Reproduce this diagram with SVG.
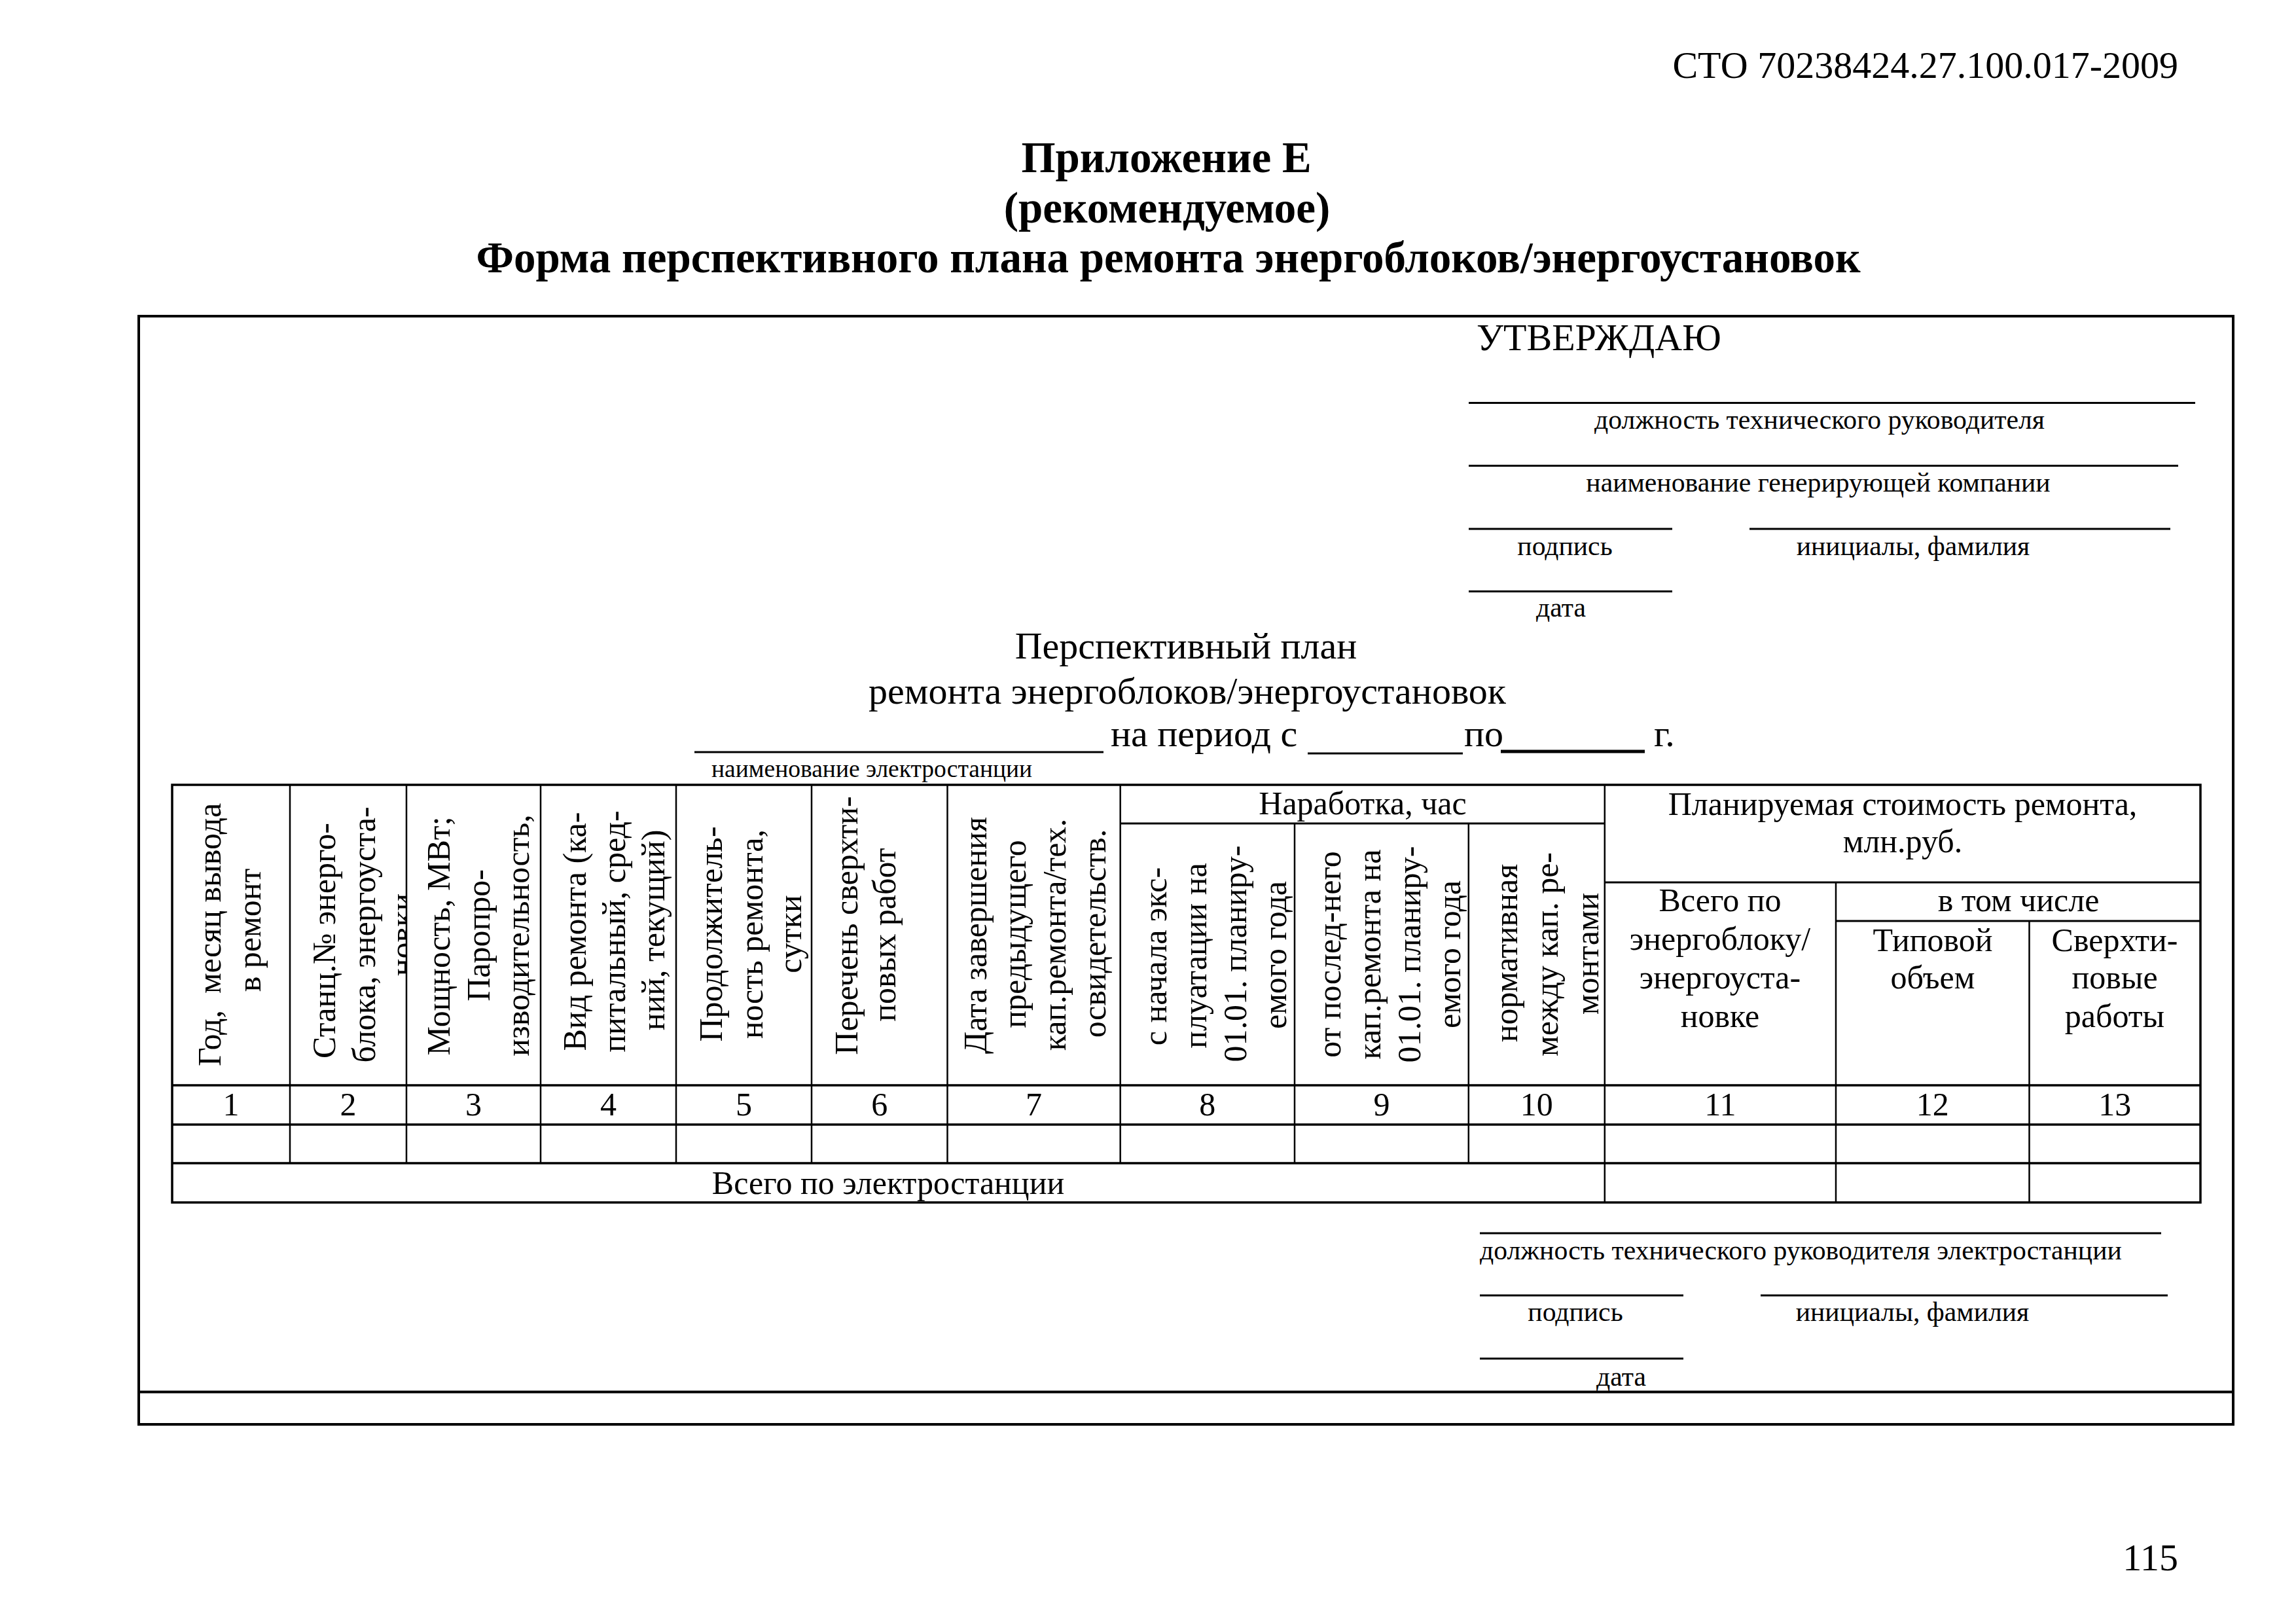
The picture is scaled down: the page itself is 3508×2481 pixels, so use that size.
<svg xmlns="http://www.w3.org/2000/svg" width="3508" height="2481" viewBox="0 0 3508 2481">
<style>
.t{font-family:"Liberation Serif","Times New Roman",serif;fill:#000}
.s58{font-size:58px}
.s50{font-size:50px}
.s42{font-size:41.7px}
.s37{font-size:37.5px}
.b{font-weight:bold;font-size:67px}
.m{text-anchor:middle}
.e{text-anchor:end}
.ln{stroke:#000;stroke-width:3;fill:none}
.hl{stroke:#000;stroke-width:3.5;fill:none}
.thin{stroke:#000;stroke-width:2.5;fill:none}
.tk{stroke:#000;stroke-width:4;fill:none}
</style>
<defs>
<clipPath id="c2"><rect x="443" y="1199" width="177" height="459"/></clipPath>
</defs>
<rect width="3508" height="2481" fill="#fff"/>

<g id="page-header">
<text class="t s58 e" x="3328" y="119">СТО 70238424.27.100.017-2009</text>
<text class="t b m" x="1782" y="263">Приложение Е</text>
<text class="t b m" x="1783" y="340">(рекомендуемое)</text>
<text class="t b m" x="1785" y="416">Форма перспективного плана ремонта энергоблоков/энергоустановок</text>
</g>

<g id="frame">
<rect class="tk" x="212" y="483" width="3200" height="1693"/>
<line class="tk" x1="212" y1="2126.5" x2="3412" y2="2126.5"/>
</g>

<g id="approval">
<text class="t s58" x="2256" y="535">УТВЕРЖДАЮ</text>
<line class="ln" x1="2244" y1="615.5" x2="3354" y2="615.5"/>
<text class="t s42 m" x="2780" y="655">должность технического руководителя</text>
<line class="ln" x1="2244" y1="711.5" x2="3328" y2="711.5"/>
<text class="t s42 m" x="2778" y="751">наименование генерирующей компании</text>
<line class="ln" x1="2244" y1="808" x2="2555" y2="808"/>
<line class="ln" x1="2673" y1="808" x2="3316" y2="808"/>
<text class="t s42 m" x="2391" y="848">подпись</text>
<text class="t s42 m" x="2923" y="848">инициалы, фамилия</text>
<line class="ln" x1="2244" y1="903.5" x2="2555" y2="903.5"/>
<text class="t s42 m" x="2385" y="942">дата</text>
</g>

<g id="plan-title">
<text class="t s58 m" x="1812" y="1006">Перспективный план</text>
<text class="t s58 m" x="1814" y="1075">ремонта энергоблоков/энергоустановок</text>
<line class="ln" x1="1061" y1="1149" x2="1686" y2="1149"/>
<text class="t s58" x="1697" y="1140">на период с</text>
<line class="ln" x1="1998" y1="1151" x2="2235" y2="1151"/>
<text class="t s58" x="2237" y="1140">по</text>
<line stroke="#000" stroke-width="5" x1="2293" y1="1148" x2="2513" y2="1148"/>
<text class="t s58" x="2527" y="1140">г.</text>
<text class="t s37" x="1087" y="1187">наименование электростанции</text>
</g>

<g id="table-grid">
<rect class="hl" x="263" y="1199" width="3099" height="638"/>
<line class="hl" x1="263" y1="1658" x2="3362" y2="1658"/>
<line class="hl" x1="263" y1="1718" x2="3362" y2="1718"/>
<line class="hl" x1="263" y1="1777" x2="3362" y2="1777"/>
<line class="ln" x1="1711.7" y1="1258" x2="2451.8" y2="1258"/>
<line class="ln" x1="2451.8" y1="1348" x2="3362" y2="1348"/>
<line class="ln" x1="2805" y1="1407" x2="3362" y2="1407"/>
<line class="thin" x1="443" y1="1199" x2="443" y2="1777"/>
<line class="thin" x1="621" y1="1199" x2="621" y2="1777"/>
<line class="thin" x1="826" y1="1199" x2="826" y2="1777"/>
<line class="thin" x1="1033" y1="1199" x2="1033" y2="1777"/>
<line class="thin" x1="1240" y1="1199" x2="1240" y2="1777"/>
<line class="thin" x1="1447.5" y1="1199" x2="1447.5" y2="1777"/>
<line class="thin" x1="1711.7" y1="1199" x2="1711.7" y2="1777"/>
<line class="thin" x1="1978" y1="1258" x2="1978" y2="1777"/>
<line class="thin" x1="2243.8" y1="1258" x2="2243.8" y2="1777"/>
<line class="thin" x1="2451.8" y1="1199" x2="2451.8" y2="1837"/>
<line class="thin" x1="2805" y1="1348" x2="2805" y2="1837"/>
<line class="thin" x1="3100.5" y1="1407" x2="3100.5" y2="1837"/>
</g>

<g id="col1-header">
<text class="t s50 m" xml:space="preserve" transform="translate(337,1428) rotate(-90)">Год,  месяц вывода</text>
<text class="t s50 m" transform="translate(398,1421) rotate(-90)">в ремонт</text>
</g>
<g id="col2-header">
<text class="t s50 m" transform="translate(512,1437) rotate(-90)">Станц.№ энерго-</text>
<text class="t s50 m" transform="translate(573,1428) rotate(-90)">блока, энергоуста-</text>
<g clip-path="url(#c2)"><text class="t s50 m" transform="translate(631,1428) rotate(-90)">новки</text></g>
</g>
<g id="col3-header">
<text class="t s50 m" transform="translate(687,1430) rotate(-90)">Мощность, МВт;</text>
<text class="t s50 m" transform="translate(748,1429) rotate(-90)">Паропро-</text>
<text class="t s50 m" transform="translate(808,1429) rotate(-90)">изводительность,</text>
</g>
<g id="col4-header">
<text class="t s50 m" transform="translate(895,1423) rotate(-90)">Вид ремонта (ка-</text>
<text class="t s50 m" transform="translate(955,1423) rotate(-90)">питальный, сред-</text>
<text class="t s50 m" transform="translate(1015,1421) rotate(-90)">ний, текущий)</text>
</g>
<g id="col5-header">
<text class="t s50 m" transform="translate(1103,1427) rotate(-90)">Продолжитель-</text>
<text class="t s50 m" transform="translate(1165,1427) rotate(-90)">ность ремонта,</text>
<text class="t s50 m" transform="translate(1224,1427) rotate(-90)">сутки</text>
</g>
<g id="col6-header">
<text class="t s50 m" transform="translate(1310,1414) rotate(-90)">Перечень сверхти-</text>
<text class="t s50 m" transform="translate(1368,1428) rotate(-90)">повых работ</text>
</g>
<g id="col7-header">
<text class="t s50 m" transform="translate(1507,1429) rotate(-90)">Дата завершения</text>
<text class="t s50 m" transform="translate(1567,1427) rotate(-90)">предыдущего</text>
<text class="t s50 m" transform="translate(1628,1428) rotate(-90)">кап.ремонта/тех.</text>
<text class="t s50 m" transform="translate(1689,1426) rotate(-90)">освидетельств.</text>
</g>
<g id="col8-10-group">
<text class="t s50 m" x="2082" y="1244">Наработка, час</text>
</g>
<g id="col8-header">
<text class="t s50 m" transform="translate(1782,1461) rotate(-90)">с начала экс-</text>
<text class="t s50 m" transform="translate(1843,1460) rotate(-90)">плуатации на</text>
<text class="t s50 m" transform="translate(1904,1457) rotate(-90)">01.01. планиру-</text>
<text class="t s50 m" transform="translate(1965,1459) rotate(-90)">емого года</text>
</g>
<g id="col9-header">
<text class="t s50 m" transform="translate(2048,1458) rotate(-90)">от послед-него</text>
<text class="t s50 m" transform="translate(2109,1458) rotate(-90)">кап.ремонта на</text>
<text class="t s50 m" transform="translate(2170,1458) rotate(-90)">01.01. планиру-</text>
<text class="t s50 m" transform="translate(2231,1458) rotate(-90)">емого года</text>
</g>
<g id="col10-header">
<text class="t s50 m" transform="translate(2318,1456) rotate(-90)">нормативная</text>
<text class="t s50 m" transform="translate(2380,1458) rotate(-90)">между кап. ре-</text>
<text class="t s50 m" transform="translate(2442,1457) rotate(-90)">монтами</text>
</g>
<g id="col11-13-group">
<text class="t s50 m" x="2907" y="1245">Планируемая стоимость ремонта,</text>
<text class="t s50 m" x="2907" y="1302">млн.руб.</text>
<text class="t s50 m" x="3084" y="1392">в том числе</text>
</g>
<g id="col11-header">
<text class="t s50 m" x="2628" y="1392">Всего по</text>
<text class="t s50 m" x="2628" y="1451">энергоблоку/</text>
<text class="t s50 m" x="2628" y="1510">энергоуста-</text>
<text class="t s50 m" x="2628" y="1569">новке</text>
</g>
<g id="col12-header">
<text class="t s50 m" x="2953" y="1453">Типовой</text>
<text class="t s50 m" x="2953" y="1510">объем</text>
</g>
<g id="col13-header">
<text class="t s50 m" x="3231" y="1453">Сверхти-</text>
<text class="t s50 m" x="3231" y="1510">повые</text>
<text class="t s50 m" x="3231" y="1569">работы</text>
</g>

<g id="number-row">
<text class="t s50 m" x="353" y="1704">1</text>
<text class="t s50 m" x="532" y="1704">2</text>
<text class="t s50 m" x="723.5" y="1704">3</text>
<text class="t s50 m" x="929.5" y="1704">4</text>
<text class="t s50 m" x="1136.5" y="1704">5</text>
<text class="t s50 m" x="1343.7" y="1704">6</text>
<text class="t s50 m" x="1579.6" y="1704">7</text>
<text class="t s50 m" x="1844.8" y="1704">8</text>
<text class="t s50 m" x="2110.9" y="1704">9</text>
<text class="t s50 m" x="2347.8" y="1704">10</text>
<text class="t s50 m" x="2628.4" y="1704">11</text>
<text class="t s50 m" x="2952.7" y="1704">12</text>
<text class="t s50 m" x="3231.2" y="1704">13</text>
</g>

<g id="total-row">
<text class="t s50 m" x="1357" y="1824">Всего по электростанции</text>
</g>

<g id="signature">
<line class="ln" x1="2261" y1="1884" x2="3302" y2="1884"/>
<text class="t s42" x="2261" y="1924">должность технического руководителя электростанции</text>
<line class="ln" x1="2261" y1="1979" x2="2572" y2="1979"/>
<line class="ln" x1="2690" y1="1979" x2="3312" y2="1979"/>
<text class="t s42 m" x="2407" y="2018">подпись</text>
<text class="t s42 m" x="2922" y="2018">инициалы, фамилия</text>
<line class="ln" x1="2261" y1="2075.5" x2="2572" y2="2075.5"/>
<text class="t s42 m" x="2477" y="2117">дата</text>
</g>

<g id="page-number">
<text class="t s58 e" x="3328" y="2399">115</text>
</g>
</svg>
